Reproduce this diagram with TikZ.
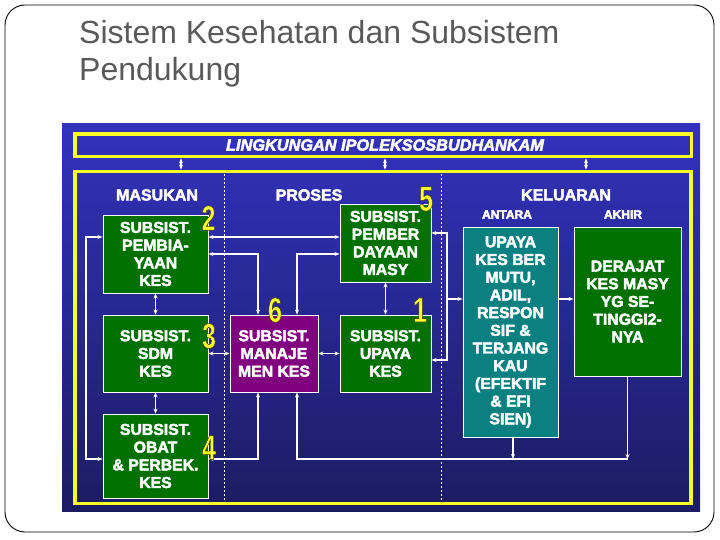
\documentclass[tikz,border=0pt]{standalone}
\usepackage{fontspec}
\setmainfont{Liberation Sans}
\usetikzlibrary{arrows.meta}
\definecolor{titlegray}{RGB}{89,89,89}
\definecolor{paneltop}{RGB}{50,50,190}
\definecolor{panelbot}{RGB}{28,28,98}
\definecolor{boxgreen}{RGB}{0,112,0}
\definecolor{boxpurple}{RGB}{128,0,128}
\definecolor{boxteal}{RGB}{10,128,128}
\definecolor{frameyellow}{RGB}{255,255,40}
\newcommand{\numtxt}[1]{\special{pdf:code 2 Tr 0.6 w 0.25 0.25 0.1 RG}\scalebox{0.72}[1]{#1}\special{pdf:code 0 Tr}}
\newcommand{\heavy}[1]{\special{pdf:code 2 Tr 0.45 w 1 1 1 RG}#1\special{pdf:code 0 Tr}}
\tikzset{
  boxtext/.style={font=\fontsize{15.8}{17.7}\selectfont\bfseries, text=white, align=center},
  subbox/.style={boxtext, draw=white, line width=0.9pt, inner sep=0pt, fill=boxgreen},
  headtxt/.style={font=\fontsize{16}{18}\selectfont\bfseries, text=white},
  subhead/.style={font=\fontsize{12}{14}\selectfont\bfseries, text=white},
  yframe/.style={draw=frameyellow, line width=3.6pt, inner sep=0pt},
  conn/.style={draw=white, line width=1.1pt},
  dar/.style={conn, {Stealth[length=5pt,width=4pt]}-{Stealth[length=5pt,width=4pt]}},
  sar/.style={conn, -{Stealth[length=5pt,width=4pt]}},
  dashv/.style={draw=white, line width=0.8pt, dash pattern=on 2pt off 2pt},
  numfill/.style={font=\fontsize{35}{35}\selectfont\bfseries, text=frameyellow, inner sep=0pt},
}
\begin{document}
\begin{tikzpicture}[x=1pt,y=-1pt]
\useasboundingbox (0,0) rectangle (720,540);
% slide frame
\draw[black, line width=0.9pt, rounded corners=20pt] (5,5) rectangle (714,532);
% title
\node[anchor=base west, inner sep=0pt, text=titlegray, font=\fontsize{32}{38}\selectfont] (t1) at (79,44) {Sistem Kesehatan dan Subsistem};
\node[anchor=base west, inner sep=0pt, text=titlegray, font=\fontsize{32}{38}\selectfont] (t2) at (79,81) {Pendukung};
% blue panel
\shade[top color=paneltop, bottom color=panelbot] (62,124) rectangle (700,511);
% frames
\node[yframe, minimum width=616.5pt, minimum height=22.5pt] (env) at (383.25,145.25) {};
\node[font=\fontsize{16.3}{17}\selectfont\bfseries\itshape, text=white] (envt) at (385,145) {\heavy{LINGKUNGAN IPOLEKSOSBUDHANKAM}};
\node[yframe, minimum width=616pt, minimum height=332pt] (mainf) at (383,337.5) {};
% helper coordinates
\coordinate (x181) at (181,0);
\coordinate (x385) at (385,0);
\coordinate (x586) at (586,0);
\coordinate (lx) at (86,0);
\coordinate (x258) at (258,0);
\coordinate (x297) at (297,0);
\coordinate (x447) at (447,0);
\coordinate (x513) at (513,0);
\coordinate (y233) at (0,233);
\coordinate (y237) at (0,237);
\coordinate (y299) at (0,299);
\coordinate (y360) at (0,360);
\coordinate (y459) at (0,459);
% env arrows
\draw[dar] (env.south -| x181) -- (mainf.north -| x181);
\draw[dar] (env.south -| x385) -- (mainf.north -| x385);
\draw[dar] (env.south -| x586) -- (mainf.north -| x586);
% dashed separators
\coordinate (dA1) at (224.5,174);
\coordinate (dA2) at (224.5,502);
\coordinate (dB1) at (441,174);
\coordinate (dB2) at (441,502);
\draw[dashv] (dA1) -- (dA2);
\draw[dashv] (dB1) -- (dB2);
% headers
\node[headtxt] (hm) at (157,195) {\heavy{MASUKAN}};
\node[headtxt] (hp) at (309,195) {\heavy{PROSES}};
\node[headtxt] (hk) at (566,195) {\heavy{KELUARAN}};
\node[subhead] (ha) at (507,214.5) {\heavy{ANTARA}};
\node[subhead] (hz) at (623,214.5) {\heavy{AKHIR}};
% boxes
\node[subbox, minimum width=105pt, minimum height=78pt] (b2) at (155.5,254) {\heavy{SUBSIST.}\\\heavy{PEMBIA-}\\\heavy{YAAN}\\\heavy{KES}};
\node[subbox, minimum width=105pt, minimum height=77pt] (b3) at (155.5,353.5) {\heavy{SUBSIST.}\\\heavy{SDM}\\\heavy{KES}};
\node[subbox, minimum width=105pt, minimum height=84pt] (b4) at (155.5,456) {\heavy{SUBSIST.}\\\heavy{OBAT}\\\heavy{\& PERBEK.}\\\heavy{KES}};
\node[subbox, fill=boxpurple, minimum width=88pt, minimum height=77pt] (b6) at (274,353.5) {\heavy{SUBSIST.}\\\heavy{MANAJE}\\\heavy{MEN KES}};
\node[subbox, minimum width=91pt, minimum height=77pt] (b1) at (385.5,353.5) {\heavy{SUBSIST.}\\\heavy{UPAYA}\\\heavy{KES}};
\node[subbox, minimum width=91pt, minimum height=78pt] (b5) at (385.5,243) {\heavy{SUBSIST.}\\\heavy{PEMBER}\\\heavy{DAYAAN}\\\heavy{MASY}};
\node[subbox, fill=boxteal, minimum width=95pt, minimum height=210pt] (tl) at (510.5,332) {\heavy{UPAYA}\\\heavy{KES BER}\\\heavy{MUTU,}\\\heavy{ADIL,}\\\heavy{RESPON}\\\heavy{SIF \&}\\\heavy{TERJANG}\\\heavy{KAU}\\\heavy{(EFEKTIF}\\\heavy{\& EFI}\\\heavy{SIEN)}};
\node[subbox, minimum width=107pt, minimum height=149pt] (dr) at (627.5,301.5) {\heavy{DERAJAT}\\\heavy{KES MASY}\\\heavy{YG SE-}\\\heavy{TINGGI2-}\\\heavy{NYA}};
% connectors
\draw[dar] (b2.east |- y237) -- (b5.west |- y237);
\draw[dar] (b2.east) -| (x258 |- b6.north);
\draw[dar] (b5.west |- b2.east) -| (x297 |- b6.north);
\draw[dar] (b5.south) -- (b1.north);
\draw[dar] (b2.south) -- (b3.north);
\draw[dar] (b3.south) -- (b4.north);
\draw[dar] (b3.east) -- (b6.west);
\draw[dar] (b6.east) -- (b1.west);
\draw[dar] (b2.west |- y237) -- (lx |- y237) -- (lx |- y459) -- (b4.west |- y459);
\draw[dar] (b4.east |- y459) -| (x258 |- b6.south);
\draw[sar] (x513 |- tl.south) -- (x513 |- y459);
\draw[sar] (dr.south) -- (dr.south |- y459);
\draw[sar] (dr.south |- y459) -- (x297 |- y459) -- (x297 |- b6.south);
\draw[dar] (b5.east |- y233) -- (x447 |- y233) -- (x447 |- y360) -- (b1.east |- y360);
\draw[sar] (x447 |- y299) -- (tl.west |- y299);
\draw[sar] (tl.east |- y299) -- (dr.west |- y299);
% numbers
\node[numfill] (num2) at (208.5,218) {\numtxt{2}};
\node[numfill] (num3) at (209,336) {\numtxt{3}};
\node[numfill] (num4) at (209,447.5) {\numtxt{4}};
\node[numfill] (num6) at (275,310) {\numtxt{6}};
\node[numfill] (num5) at (426,199) {\numtxt{5}};
\node[numfill] (num1) at (420,310) {\numtxt{1}};
\end{tikzpicture}
\end{document}
